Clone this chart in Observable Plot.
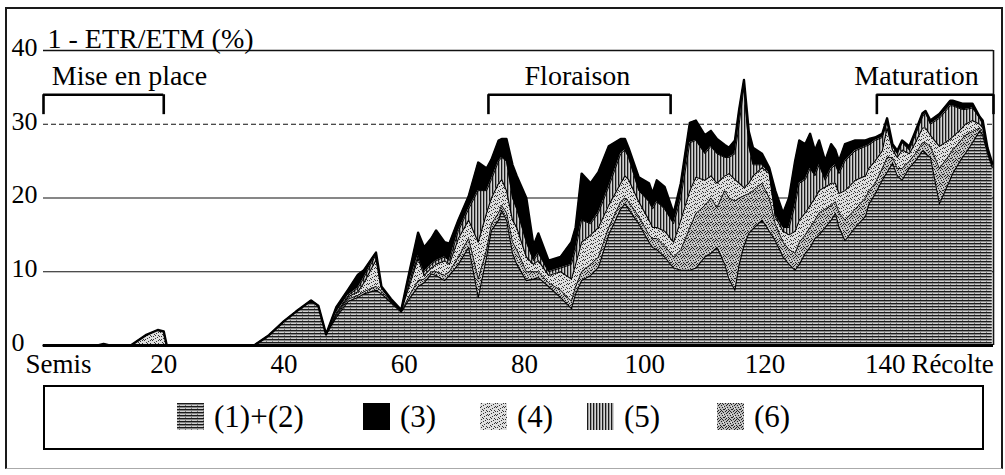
<!DOCTYPE html>
<html>
<head>
<meta charset="utf-8">
<script src="https://cdn.jsdelivr.net/npm/d3@7"></script>
<script src="https://cdn.jsdelivr.net/npm/@observablehq/plot@0.6"></script>
<style>
  html, body { margin: 0; padding: 0; background: #fff; }
  #wrap { position: relative; width: 1005px; height: 475px; overflow: hidden; font-family: "Liberation Serif", "DejaVu Serif", serif; color: #000; }
  #wrap svg text { font-family: "Liberation Serif", "DejaVu Serif", serif; }
  #frame { position: absolute; left: 5px; top: 7px; width: 998px; height: 462px; box-sizing: border-box;
           border: 2px solid #1a1a1a; border-bottom: 1.5px solid #aaa; }
  #chart { position: absolute; left: 0; top: 0; }
  #legend { position: absolute; left: 43px; top: 385px; width: 941px; height: 65px; box-sizing: border-box; border: 2.5px solid #000; }
  .item { position: absolute; top: 403px; height: 27px; display: flex; align-items: center; }
  .item svg { width: 27px; height: 27px; display: block; }
  .item span { font-size: 31px; line-height: 27px; margin-left: 10px; white-space: nowrap; font-family: "Liberation Serif", "DejaVu Serif", serif; }
</style>
</head>
<body>
<svg width="0" height="0" style="position:absolute">
  <defs>
    <pattern id="p12" width="6" height="3" patternUnits="userSpaceOnUse">
      <rect width="6" height="3" fill="#cfcfcf"/>
      <rect width="6" height="1.4" fill="#1a1a1a"/>
      <rect x="2" y="2" width="1" height="1" fill="#777"/>
    </pattern>
    <pattern id="p5" width="3" height="7" patternUnits="userSpaceOnUse">
      <rect width="3" height="7" fill="#d2d2d2"/>
      <rect width="1.3" height="7" fill="#1a1a1a"/>
    </pattern>
    <pattern id="p4" width="8" height="8" patternUnits="userSpaceOnUse">
      <rect width="8" height="8" fill="#dedede"/>
      <g fill="#333">
        <rect x="1" y="0" width="1" height="1"/><rect x="5" y="1" width="1" height="1"/>
        <rect x="3" y="2" width="1" height="1"/><rect x="7" y="3" width="1" height="1"/>
        <rect x="0" y="4" width="1" height="1"/><rect x="4" y="5" width="1" height="1"/>
        <rect x="2" y="6" width="1" height="1"/><rect x="6" y="7" width="1" height="1"/>
        <rect x="6" y="4" width="1" height="1"/><rect x="1" y="3" width="1" height="1"/>
        <rect x="3" y="7" width="1" height="1"/><rect x="7" y="0" width="1" height="1"/>
      </g>
    </pattern>
    <pattern id="p6" width="8" height="8" patternUnits="userSpaceOnUse">
      <rect width="8" height="8" fill="#bcbcbc"/>
      <g fill="#222">
        <rect x="0" y="0" width="1" height="1"/><rect x="3" y="0" width="1" height="1"/>
        <rect x="6" y="1" width="1" height="1"/><rect x="1" y="2" width="1" height="1"/>
        <rect x="4" y="2" width="1" height="1"/><rect x="7" y="3" width="1" height="1"/>
        <rect x="2" y="4" width="1" height="1"/><rect x="5" y="4" width="1" height="1"/>
        <rect x="0" y="5" width="1" height="1"/><rect x="3" y="6" width="1" height="1"/>
        <rect x="6" y="6" width="1" height="1"/><rect x="1" y="7" width="1" height="1"/>
        <rect x="4" y="7" width="1" height="1"/><rect x="7" y="6" width="1" height="1"/>
        <rect x="5" y="0" width="1" height="1"/><rect x="2" y="1" width="1" height="1"/>
      </g>
      <g fill="#f0f0f0">
        <rect x="6" y="3" width="1" height="1"/><rect x="1" y="5" width="1" height="1"/>
      </g>
    </pattern>
  </defs>
</svg>
<div id="wrap">
  <div id="frame"></div>
  <div id="chart"></div>
  <div id="legend"></div>
</div>
<script>
// ---- data (day after sowing, cumulative level at the top of each layer, %) ----
const days = [0, 9, 10, 11, 14.5, 17, 19, 20, 20.5, 35, 37.5, 40, 42, 44.5, 45.7, 47, 48.7, 50.7, 52.3, 53.3,
  55.3, 56.2, 57.8, 59.5, 61, 62.3, 63.3, 64.5, 65.3, 66.7, 67.5, 69, 70.7, 72.3, 73.7, 74.5, 75.7, 76.2, 77, 78,
  78.7, 80.3, 81.5, 82.3, 84, 86, 87.8, 88.5, 89.5, 91, 92.3, 94, 96, 96.7, 97.3, 99, 100.7, 101.3, 102, 103.3,
  104.8, 106, 107.5, 108.5, 110, 111, 112, 113.3, 114, 115, 115.7, 116.5, 117.3, 118, 119.5, 120.7, 121.7, 123, 124, 125,
  125.7, 126.7, 127.5, 128.3, 129, 130, 131, 131.7, 132.3, 133.3, 135, 136.7, 137.3, 138.3, 139.5, 140.3, 141.2, 142, 142.8, 144,
  145, 146.2, 146.7, 147.5, 149, 150.8, 151.2, 152.8, 153.3, 154.5, 155.7, 156.2, 157, 157.8];
// top of (1)+(2)
const top12 = [0, 0, 0.2, 0, 0, 0, 0, 0, 0, 0, 1.4, 3.3, 4.6, 6.1, 5.4, 1.5, 3.8, 6.0, 6.5, 7.0,
  7.5, 7.0, 5.8, 4.5, 6.5, 8.0, 8.5, 9.7, 9.5, 8.8, 9.5, 11.0, 13.3, 6.5, 12.0, 15.6, 17.0, 18.3, 17.0, 12.5,
  11.0, 8.8, 9.0, 9.2, 8.0, 6.5, 5.0, 7.0, 8.8, 9.5, 10.6, 15.0, 18.5, 19.2, 18.5, 16.5, 14.0, 13.3, 13.0, 12.0,
  10.5, 10.2, 10.2, 10.5, 12.0, 12.5, 13.3, 11.0, 9.0, 7.5, 11.0, 13.5, 15.2, 15.8, 17.0, 15.5, 14.2, 12.0, 11.0, 10.2,
  11.0, 12.5, 13.3, 14.5, 15.0, 16.0, 17.0, 17.9, 16.0, 14.2, 16.0, 17.5, 19.2, 20.5, 22.4, 23.5, 24.7, 23.0, 22.4, 24.1,
  25.0, 26.4, 26.0, 25.5, 19.2, 22.5, 23.3, 25.5, 26.0, 27.5, 29.1, 28.5, 26.0, 24.1];
// top of (6)
const top6 = [0, 0, 0.2, 0, 0, 0, 0, 0, 0, 0, 1.4, 3.3, 4.6, 6.1, 5.4, 1.5, 4.0, 6.3, 6.8, 7.3,
  8.0, 7.4, 5.9, 4.6, 7.0, 8.8, 9.0, 10.0, 10.0, 9.5, 10.0, 12.0, 14.5, 9.0, 13.0, 16.5, 18.0, 19.0, 18.0, 14.0,
  13.0, 10.0, 10.0, 10.0, 8.5, 7.5, 6.0, 8.0, 10.0, 11.0, 12.0, 16.0, 19.5, 20.0, 19.5, 17.5, 15.0, 14.5, 14.5, 13.5,
  12.0, 13.0, 16.0, 17.9, 19.0, 20.0, 18.7, 21.0, 20.0, 19.6, 20.0, 20.3, 20.6, 21.0, 22.0, 20.0, 16.5, 14.0, 13.0, 12.5,
  14.0, 15.0, 16.0, 17.0, 18.0, 18.5, 19.0, 19.5, 18.0, 17.0, 18.5, 20.0, 21.0, 22.0, 24.0, 25.5, 25.5, 24.0, 24.0, 25.0,
  26.0, 27.5, 27.5, 27.0, 24.0, 26.0, 26.5, 28.0, 28.5, 29.0, 29.5, 29.0, 26.3, 24.3];
// top of (4)
const top4 = [0, 0, 0.2, 0, 0, 1.4, 2.1, 1.9, 0, 0, 1.4, 3.3, 4.6, 6.1, 5.4, 1.5, 4.2, 6.6, 7.3, 8.5,
  11.6, 7.8, 6.0, 4.7, 8.5, 11.8, 9.5, 10.5, 11.0, 11.5, 11.0, 14.5, 17.0, 14.0, 18.0, 20.0, 22.0, 22.5, 21.0, 17.0,
  16.0, 12.0, 11.0, 11.5, 9.5, 10.0, 9.0, 11.0, 14.0, 15.0, 16.0, 19.0, 22.0, 23.0, 22.5, 19.5, 17.0, 16.0, 16.0, 15.5,
  14.0, 17.0, 21.0, 22.8, 22.4, 23.0, 22.0, 23.0, 23.3, 22.5, 22.0, 21.4, 22.0, 23.0, 24.1, 23.3, 17.5, 15.5, 15.0, 15.5,
  17.0, 18.0, 19.0, 20.0, 21.0, 21.5, 22.0, 22.0, 20.6, 21.0, 22.4, 23.0, 24.1, 25.0, 26.4, 29.5, 26.5, 25.5, 26.5, 26.0,
  27.5, 29.5, 29.5, 28.5, 27.0, 28.0, 28.3, 29.5, 30.0, 30.5, 30.0, 29.5, 26.5, 24.5];
// top of (5)
const top5 = [0, 0, 0.2, 0, 0, 1.4, 2.1, 1.9, 0, 0, 1.4, 3.3, 4.6, 6.1, 5.4, 1.5, 4.4, 6.8, 7.8, 9.2,
  12.3, 7.9, 6.1, 4.7, 9.0, 12.2, 10.0, 11.0, 11.5, 12.0, 11.5, 15.5, 18.5, 21.0, 21.0, 22.5, 25.0, 25.5, 25.0, 20.0,
  18.5, 14.0, 11.5, 12.5, 10.0, 10.5, 11.0, 13.0, 17.0, 16.5, 18.0, 21.5, 26.0, 26.5, 25.5, 21.0, 19.5, 18.5, 19.5, 18.5,
  16.5, 20.0, 27.5, 27.8, 26.0, 27.0, 26.0, 25.5, 25.5, 26.0, 30.0, 35.0, 27.0, 24.5, 24.5, 23.5, 17.8, 16.0, 16.0, 19.0,
  22.0, 22.5, 24.0, 23.0, 24.5, 22.4, 24.0, 24.5, 23.3, 25.0, 26.4, 27.0, 27.2, 27.8, 28.2, 30.3, 27.0, 26.0, 27.5, 26.5,
  28.5, 31.0, 31.5, 30.0, 30.8, 32.5, 32.5, 32.0, 32.0, 32.2, 30.8, 30.0, 26.7, 24.6];
// top of (3) = total 1 - ETR/ETM
const top3 = [0, 0, 0.2, 0, 0, 1.4, 2.1, 1.9, 0, 0, 1.4, 3.3, 4.6, 6.1, 5.4, 1.5, 5.2, 7.6, 9.6, 10.2,
  12.6, 8.0, 6.3, 4.8, 10.5, 15.3, 13.3, 14.5, 15.6, 14.0, 13.8, 17.0, 20.2, 24.8, 24.0, 25.2, 27.8, 28.0, 28.0, 24.5,
  23.0, 20.0, 13.5, 15.2, 11.5, 12.0, 14.0, 16.0, 23.3, 22.0, 23.5, 27.0, 28.0, 28.0, 26.8, 22.8, 22.0, 20.6, 22.4, 21.5,
  17.9, 22.0, 30.2, 30.5, 28.5, 29.1, 28.0, 27.2, 26.8, 27.8, 32.0, 36.0, 29.0, 26.8, 26.0, 24.1, 21.0, 17.9, 20.0, 25.0,
  27.8, 27.3, 28.7, 26.4, 27.8, 25.0, 27.3, 26.5, 25.0, 27.3, 27.8, 27.8, 28.0, 28.2, 28.7, 30.8, 27.3, 26.4, 27.8, 27.0,
  29.0, 31.5, 31.8, 30.5, 31.4, 33.2, 33.2, 32.8, 32.8, 32.8, 31.0, 30.5, 26.8, 24.7];

const legendLabels = ["(1)+(2)", "(3)", "(4)", "(5)", "(6)"];
const xTicks = [20, 40, 60, 80, 100, 120, 140];
const xEndLabels = ["Semis", "Récolte"];
const yTicks = [0, 10, 20, 30, 40];
const phases = ["Mise en place", "Floraison", "Maturation"];
const phaseStart = [0, 74, 138.6];
const phaseEnd = [20, 104.3, 158];
const title = "1 - ETR/ETM (%)";

// ---- build table ----
const rows = days.map((d, i) => ({day: d, t12: top12[i], t6: top6[i], t4: top4[i], t5: top5[i], t3: top3[i]}));

const FONT = "Liberation Serif, DejaVu Serif, serif";
const phaseLabelAt = [14.3, 88.8, 145.2];
const endLabelAt = [2.5, 151.2];
const bracketTop = 34.0, bracketLeg = 31.3;

const chart = Plot.plot({
  width: 1005,
  height: 380,
  marginLeft: 43,
  marginRight: 12,
  marginTop: 50,
  marginBottom: 35,
  x: {domain: [0, 158], label: null},
  y: {domain: [0, 40], axis: null, label: null},
  style: {fontFamily: FONT, color: "#000", background: "transparent", overflow: "visible"},
  marks: [
    // grid / frame
    Plot.ruleY([10, 20], {x1: 0, x2: 158, stroke: "#111", strokeWidth: 1.2}),
    Plot.ruleY([30], {x1: 0, x2: 158, stroke: "#111", strokeWidth: 1.2, strokeDasharray: "5,3"}),
    Plot.ruleY([40], {x1: 0, x2: 158, stroke: "#111", strokeWidth: 1.6}),
    Plot.ruleX([158], {y1: 0, y2: 40, stroke: "#111", strokeWidth: 1.6}),
    // stacked layers
    Plot.areaY(rows, {x: "day", y1: 0, y2: "t12", fill: "url(#p12)"}),
    Plot.areaY(rows, {x: "day", y1: "t12", y2: "t6", fill: "url(#p6)"}),
    Plot.areaY(rows, {x: "day", y1: "t6", y2: "t4", fill: "url(#p4)"}),
    Plot.areaY(rows, {x: "day", y1: "t4", y2: "t5", fill: "url(#p5)"}),
    Plot.areaY(rows, {x: "day", y1: "t5", y2: "t3", fill: "#000"}),
    Plot.lineY(rows, {x: "day", y: "t12", stroke: "#000", strokeWidth: 1.1}),
    Plot.lineY(rows, {x: "day", y: "t6", stroke: "#000", strokeWidth: 0.9}),
    Plot.lineY(rows, {x: "day", y: "t4", stroke: "#000", strokeWidth: 1.1}),
    Plot.lineY(rows, {x: "day", y: "t5", stroke: "#000", strokeWidth: 1}),
    Plot.lineY(rows, {x: "day", y: "t3", stroke: "#000", strokeWidth: 2.4, strokeLinejoin: "round"}),
    Plot.ruleY([0], {x1: 0, x2: 158, stroke: "#000", strokeWidth: 3}),
    // phase brackets
    Plot.ruleY(phases, {x1: (d, i) => phaseStart[i], x2: (d, i) => phaseEnd[i], y: bracketTop, stroke: "#000", strokeWidth: 2.6}),
    Plot.ruleX(phaseStart.concat(phaseEnd), {x: d => d, y1: bracketLeg, y2: bracketTop, stroke: "#000", strokeWidth: 2.6}),
    Plot.text(phases, {x: (d, i) => phaseLabelAt[i], y: 35.3, text: d => d, lineAnchor: "bottom", fontSize: 28, fontFamily: FONT, fill: "#000"}),
    // title
    Plot.text([title], {frameAnchor: "top-left", dx: 4, dy: -3, lineAnchor: "bottom", textAnchor: "start", fontSize: 28, fontFamily: FONT, fill: "#000"}),
    // y labels
    Plot.text(yTicks, {x: 0, y: d => d, text: d => String(d), dx: -32, dy: -3, textAnchor: "start", fontSize: 26, fontFamily: FONT, fill: "#000"}),
    // x axis
    Plot.axisX(xTicks, {label: null, tickSize: 0, tickPadding: 8, fontSize: 27, fontFamily: FONT, tickFormat: d => String(d), fill: "#000"}),
    Plot.text(xEndLabels, {x: (d, i) => endLabelAt[i], y: 0, text: d => d, dy: 8, lineAnchor: "top", fontSize: 27, fontFamily: FONT, fill: "#000"})
  ]
});
document.getElementById("chart").appendChild(chart);

// ---- legend (below the plot) ----
const legendPatterns = ["url(#p12)", "#000", "url(#p4)", "url(#p5)", "url(#p6)"];
const legendX = [177, 363, 480, 587, 717];
const wrap = document.getElementById("wrap");
legendLabels.forEach((lab, i) => {
  const item = document.createElement("div");
  item.className = "item";
  item.style.left = legendX[i] + "px";
  item.innerHTML = `<svg viewBox="0 0 27 27"><rect width="27" height="27" fill="${legendPatterns[i]}"/></svg><span>${lab}</span>`;
  wrap.appendChild(item);
});
</script>
</body>
</html>
